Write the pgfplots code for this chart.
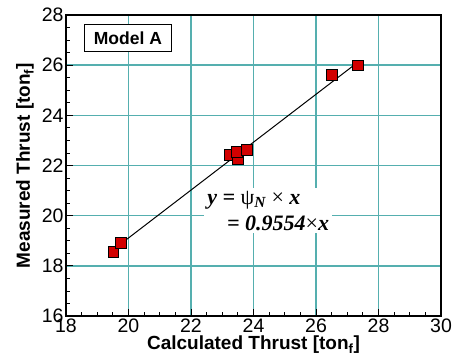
\documentclass[border=0pt]{standalone}
\usepackage{pgfplots}
\pgfplotsset{compat=1.18}
\usepackage{fontspec}
\setmainfont{Liberation Sans}
\newfontfamily\timesfont{Liberation Serif}
\definecolor{gridc}{RGB}{85,175,175}
\definecolor{mred}{RGB}{210,0,0}
\begin{document}
\begin{tikzpicture}
\begin{axis}[
  name=ax,
  scale only axis,
  width=375pt, height=301pt,
  xmin=18, xmax=30, ymin=16, ymax=28,
  xtick={18,20,...,30}, ytick={16,18,...,28},
  minor x tick num=3, minor y tick num=3,
  xmajorgrids=true, ymajorgrids=true,
  major grid style={gridc, line width=1.4pt},
  tick align=inside,
  xtick pos=bottom, ytick pos=left,
  major tick length=7pt, minor tick length=4pt,
  tick style={black, line width=0.8pt},
  axis line style={line width=1.6pt},
  ticklabel style={font=\fontsize{19.5}{19.5}\selectfont},
  /pgf/number format/assume math mode=true,
  xlabel={\textbf{Calculated Thrust [ton\textsubscript{f}]}},
  ylabel={\textbf{Measured Thrust [ton\textsubscript{f}]}},
  label style={font=\fontsize{19}{19}\selectfont},
  xlabel style={yshift=3pt},
  ylabel style={yshift=1pt},
  xticklabel style={yshift=1pt},
  yticklabel style={xshift=1pt},
]
\addplot[black, line width=1pt] coordinates {(19.8,18.92) (27.3,26.08)};
\addplot[only marks, mark=square*, mark size=5.2pt,
  mark options={fill=mred, draw=black, line width=0.8pt}] coordinates {
  (19.51,18.56) (19.76,18.92)
  (23.22,22.42) (23.50,22.26) (23.47,22.54) (23.79,22.62)
  (26.51,25.61) (27.34,26.00)
};
\node[draw=black, fill=white, line width=0.8pt, inner xsep=9pt, inner ysep=7pt,
  font=\fontsize{17.5}{17.5}\selectfont\bfseries] at (axis cs:19.98,27.08) {Model A};
\node[fill=white, align=left, inner sep=3pt, font=\fontsize{22}{26}\selectfont\timesfont\bfseries\itshape]
  at (axis cs:24.47,20.2) {y = {\mdseries\upshape ψ}\textsubscript{N} {\mdseries\upshape ×} x\\
  \hspace*{0.9em}= 0.9554{\mdseries\upshape ×}x};
\end{axis}
\pgfresetboundingbox
\path ([shift={(-66pt,-42pt)}]ax.south west) rectangle ([shift={(13pt,15pt)}]ax.north east);
\end{tikzpicture}
\end{document}
